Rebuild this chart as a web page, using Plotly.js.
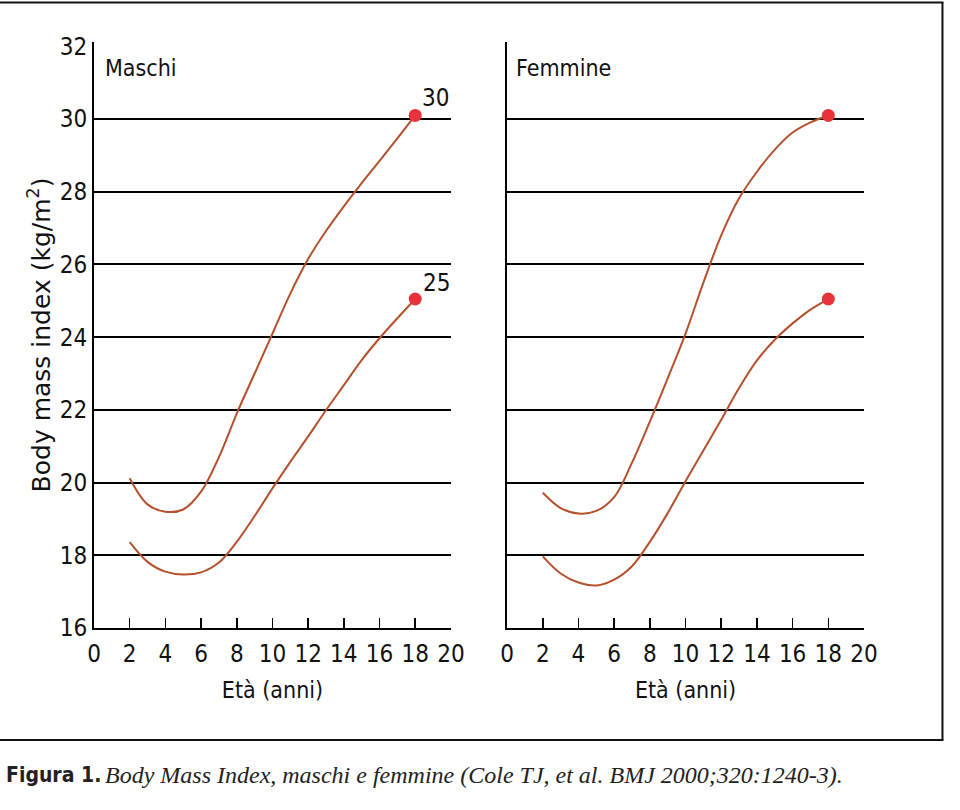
<!DOCTYPE html>
<html><head><meta charset="utf-8">
<script src="https://cdn.plot.ly/plotly-3.0.1.min.js"></script>
<style>body{margin:0;background:#fff}</style>
</head><body><div id="chart" style="width:960px;height:810px"></div>
<script>
// Data
const ages = [2,3,4,5,6,7,8,9,10,11,12,13,14,15,16,17,18];
const maschi30 = [20.12,19.4,19.2,19.26,19.75,20.7,21.9,23.0,24.1,25.2,26.15,26.92,27.6,28.24,28.85,29.47,30.1];
const maschi25 = [18.36,17.82,17.55,17.47,17.53,17.8,18.37,19.08,19.84,20.57,21.27,21.99,22.68,23.37,23.97,24.52,25.05];
const femmine30 = [19.72,19.3,19.15,19.22,19.6,20.55,21.68,22.87,24.1,25.5,26.8,27.82,28.55,29.16,29.63,29.91,30.1];
const femmine25 = [17.97,17.5,17.25,17.17,17.33,17.7,18.37,19.16,20.04,20.88,21.73,22.6,23.36,23.93,24.38,24.76,25.05];
const xTickVals = [0,2,4,6,8,10,12,14,16,18,20];
const xMinorTicks = [2,4,6,8,10,12,14,16,18];
const yTickVals = [16,18,20,22,24,26,28,30,32];
const yGridVals = [18,20,22,24,26,28,30];
const endLabels = ['30','25'];

const W = 960, H = 810;
const mL = 94.3, mR = W - 864.5, mT = 41.5, mB = H - 628;
const pw = W - mL - mR, ph = H - mT - mB;
const px = x => (x - mL) / pw;
const py = y => (H - mB - y) / ph;

const narrow = 'DejaVu Sans Condensed, Liberation Sans Narrow, sans-serif';
const lineColor = '#b5502c';
const dotColor = '#e8333b';

function curve(x, y, xa, ya, name) {
  return {x: x, y: y, xaxis: xa, yaxis: ya, name: name, mode: 'lines',
    line: {color: lineColor, width: 2, shape: 'spline', smoothing: 1},
    hoverinfo: 'x+y', showlegend: false};
}
function endDot(x, y, xa, ya) {
  return {x: x.slice(-1), y: y.slice(-1), xaxis: xa, yaxis: ya, mode: 'markers',
    marker: {color: dotColor, size: 13}, showlegend: false, hoverinfo: 'x+y'};
}

const data = [
  curve(ages, maschi30, 'x', 'y', 'Maschi 30'),
  curve(ages, maschi25, 'x', 'y', 'Maschi 25'),
  curve(ages, femmine30, 'x2', 'y2', 'Femmine 30'),
  curve(ages, femmine25, 'x2', 'y2', 'Femmine 25'),
  endDot(ages, maschi30, 'x', 'y'),
  endDot(ages, maschi25, 'x', 'y'),
  endDot(ages, femmine30, 'x2', 'y2'),
  endDot(ages, femmine25, 'x2', 'y2')
];

function xAxis(domain, anchor) {
  return {domain: domain, anchor: anchor, range: [0, 20], tickmode: 'array', tickvals: xTickVals,
    ticks: '', showgrid: false, zeroline: false, showline: true, linecolor: '#000', linewidth: 2,
    tickfont: {family: narrow, size: 24, color: '#111'}, ticklabelstandoff: 3,
    minor: {tickmode: 'array', tickvals: xMinorTicks, ticks: 'inside', ticklen: 10, tickwidth: 1.5, tickcolor: '#000', showgrid: false},
    title: {text: 'Età (anni)', font: {family: narrow, size: 23, color: '#111'}, standoff: 15},
    automargin: false, fixedrange: true};
}
function yAxis(anchor, labels) {
  return {domain: [0, 1], anchor: anchor, range: [16, 32.12], tickmode: 'array', tickvals: yTickVals,
    ticks: '', showgrid: false, zeroline: false, showline: true, linecolor: '#000', linewidth: 2,
    showticklabels: labels, tickfont: {family: narrow, size: 24, color: '#111'}, ticklabelstandoff: 0,
    minor: {tickmode: 'array', tickvals: yGridVals, ticks: '', showgrid: true, gridcolor: '#000', gridwidth: 2},
    automargin: false, fixedrange: true};
}

const ya = yAxis('x', true);
ya.title = {text: 'Body mass index (kg/m<sup>2</sup>)', font: {family: 'DejaVu Sans, sans-serif', size: 25, color: '#111'}, standoff: 2};
const ya2 = yAxis('x2', false);
ya2.matches = 'y';

const layout = {
  width: W, height: H,
  margin: {l: mL, r: mR, t: mT, b: mB, pad: 0},
  paper_bgcolor: '#fff', plot_bgcolor: 'rgba(0,0,0,0)',
  showlegend: false,
  xaxis: xAxis([0, px(451.3)], 'y'),
  xaxis2: xAxis([px(507.5), 1], 'y2'),
  yaxis: ya, yaxis2: ya2,
  annotations: [
    {text: 'Maschi', xref: 'paper', yref: 'paper', x: px(103), y: py(68), xanchor: 'left', yanchor: 'middle', showarrow: false, font: {family: narrow, size: 23, color: '#111'}},
    {text: 'Femmine', xref: 'paper', yref: 'paper', x: px(514), y: py(68), xanchor: 'left', yanchor: 'middle', showarrow: false, font: {family: narrow, size: 23, color: '#111'}},
    {text: endLabels[0], xref: 'x', yref: 'y', x: ages[ages.length-1], y: maschi30[maschi30.length-1], xanchor: 'left', yanchor: 'bottom', xshift: 5, yshift: 1, showarrow: false, font: {family: narrow, size: 24, color: '#111'}},
    {text: endLabels[1], xref: 'x', yref: 'y', x: ages[ages.length-1], y: maschi25[maschi25.length-1], xanchor: 'left', yanchor: 'bottom', xshift: 6, yshift: 0, showarrow: false, font: {family: narrow, size: 24, color: '#111'}},
    {text: '<b>Figura 1.</b>', xref: 'paper', yref: 'paper', x: px(4), y: py(775), xanchor: 'left', yanchor: 'middle', showarrow: false, font: {family: narrow, size: 21, color: '#222'}},
    {text: '<i>Body Mass Index, maschi e femmine (Cole TJ, et al. BMJ 2000;320:1240-3).</i>', xref: 'paper', yref: 'paper', x: px(103), y: py(775), xanchor: 'left', yanchor: 'middle', showarrow: false, font: {family: 'Liberation Serif, DejaVu Serif, serif', size: 24, color: '#222'}}
  ],
  shapes: [
    {type: 'line', xref: 'paper', yref: 'paper', x0: px(0), x1: px(944), y0: py(2), y1: py(2), line: {color: '#111', width: 2}},
    {type: 'line', xref: 'paper', yref: 'paper', x0: px(943), x1: px(943), y0: py(2), y1: py(740), line: {color: '#111', width: 2}},
    {type: 'line', xref: 'paper', yref: 'paper', x0: px(0), x1: px(944), y0: py(740), y1: py(740), line: {color: '#111', width: 2}}
  ]
};

Plotly.newPlot('chart', data, layout, {displayModeBar: false, staticPlot: true});
</script></body></html>
